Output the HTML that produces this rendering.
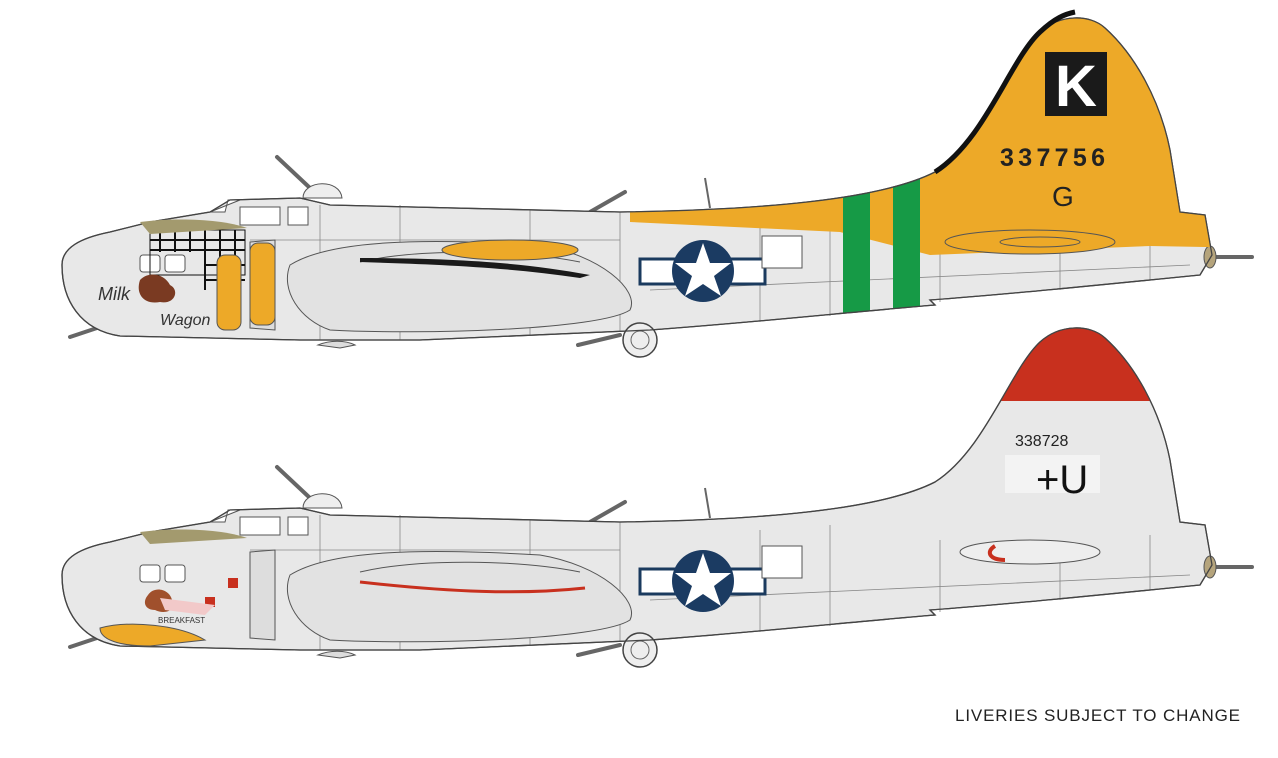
<!DOCTYPE html>
<html><head><meta charset="utf-8"><style>
html,body{margin:0;padding:0;background:#fff;width:1278px;height:758px;overflow:hidden}
svg{display:block}
text{font-family:"Liberation Sans",sans-serif}
</style></head><body>
<svg width="1278" height="758" viewBox="0 0 1278 758" xmlns="http://www.w3.org/2000/svg">
<defs>
<path id="fus" d="M62,265 C62,248 80,238 110,232 L150,222 L210,212 L230,200 L300,198 L330,205 L620,212 C760,210 880,200 935,172 C985,140 1010,60 1040,32 C1060,14 1090,14 1105,28 C1135,55 1160,100 1170,150 L1180,212 L1205,215 L1212,255 L1200,275 C1100,285 1000,295 930,300 L935,305 C850,312 760,322 650,330 L420,340 L300,340 L120,336 C80,330 62,300 62,265 Z"/>
<g id="common">
 <g stroke="#666" stroke-width="4" stroke-linecap="round">
  <line x1="277" y1="157" x2="310" y2="188"/>
  <line x1="590" y1="212" x2="625" y2="192"/>
  <line x1="70" y1="337" x2="100" y2="327"/>
  <line x1="578" y1="345" x2="620" y2="335"/>
  <line x1="67" y1="268" x2="95" y2="268"/>
  <line x1="1215" y1="257" x2="1252" y2="257"/>
 </g>
 <use href="#fus" fill="#e8e8e8" stroke="#555" stroke-width="1.3"/>
 <path d="M303,198 C303,180 340,178 342,198 Z" fill="#eee" stroke="#555"/>
 <path d="M210,212 L225,212 L228,200 L240,200 Z" fill="#fff" stroke="#555"/>
 <rect x="240" y="207" width="40" height="18" fill="#fff" stroke="#555"/>
 <rect x="288" y="207" width="20" height="18" fill="#fff" stroke="#555"/>
 <rect x="140" y="255" width="20" height="17" rx="3" fill="#fff" stroke="#555"/>
 <rect x="165" y="255" width="20" height="17" rx="3" fill="#fff" stroke="#555"/>
 <g stroke="#888" stroke-width="0.8" fill="none">
  <line x1="250" y1="240" x2="620" y2="240"/>
  <line x1="320" y1="205" x2="320" y2="340"/>
  <line x1="400" y1="205" x2="400" y2="340"/>
  <line x1="530" y1="210" x2="530" y2="336"/>
  <line x1="620" y1="212" x2="620" y2="332"/>
  <line x1="760" y1="220" x2="760" y2="322"/>
  <line x1="830" y1="215" x2="830" y2="316"/>
  <line x1="940" y1="230" x2="940" y2="302"/>
  <line x1="1060" y1="235" x2="1060" y2="290"/>
  <line x1="1150" y1="225" x2="1150" y2="280"/>
  <line x1="650" y1="290" x2="1190" y2="265"/>
 </g>
 <path d="M290,265 C330,240 420,238 540,245 C600,255 640,290 630,310 C600,330 420,335 330,330 C300,320 280,290 290,265 Z" fill="#e2e2e2" stroke="#555"/>
 <path d="M360,262 C420,248 520,250 580,262" stroke="#555" fill="none"/>
 <path d="M250,242 L275,240 L275,330 L250,328 Z" fill="#ddd" stroke="#555"/>
 <circle cx="640" cy="340" r="17" fill="#eee" stroke="#444" stroke-width="1.5"/>
 <circle cx="640" cy="340" r="9" fill="none" stroke="#666"/>
 <path d="M318,345 C330,340 345,340 355,345 L340,348 Z" fill="#ddd" stroke="#555"/>
 <rect x="640" y="259" width="125" height="25" fill="#fff" stroke="#1a3a5e" stroke-width="3"/>
 <circle cx="703" cy="271" r="31" fill="#1b3b62"/>
 <polygon points="703,243 710,263 731,263 714,276 721,296 703,284 685,296 692,276 675,263 696,263" fill="#fff"/>
 <rect x="762" y="236" width="40" height="32" fill="#fff" stroke="#555"/>
 <ellipse cx="1210" cy="257" rx="6" ry="11" fill="#b5a47c" stroke="#555"/>
 <line x1="705" y1="178" x2="710" y2="208" stroke="#666" stroke-width="2"/>
</g>
<clipPath id="fc"><use href="#fus"/></clipPath>
</defs>

<g>
 <use href="#common"/>
 <g clip-path="url(#fc)">
  <path d="M630,0 L1260,0 L1260,248 L1150,246 L930,255 L840,232 L630,222 Z" fill="#eda928"/>
  <rect x="843" y="180" width="27" height="150" fill="#169a46"/>
  <rect x="893" y="170" width="27" height="150" fill="#169a46"/>
 </g>
 <use href="#fus" fill="none" stroke="#444" stroke-width="1.3"/>
 <path d="M935,172 C985,140 1010,60 1040,32 C1055,18 1065,14 1075,12" stroke="#111" stroke-width="5" fill="none"/>
 <ellipse cx="1030" cy="242" rx="85" ry="12" fill="#eda928" stroke="#555"/>
 <ellipse cx="1040" cy="242" rx="40" ry="5" fill="none" stroke="#555"/>
 <rect x="1045" y="52" width="62" height="64" fill="#1a1a1a"/>
 <text x="1076" y="106" font-size="58" font-weight="bold" fill="#fff" text-anchor="middle">K</text>
 <text x="1000" y="166" font-size="25" font-weight="bold" fill="#222" textLength="105">337756</text>
 <text x="1052" y="206" font-size="28" fill="#222">G</text>
 <rect x="150" y="230" width="95" height="45" fill="none" stroke="#111" stroke-width="1"/>
 <g stroke="#111" stroke-width="2">
  <line x1="160" y1="230" x2="160" y2="252"/><line x1="175" y1="230" x2="175" y2="252"/>
  <line x1="190" y1="230" x2="190" y2="252"/><line x1="205" y1="230" x2="205" y2="290"/>
  <line x1="220" y1="230" x2="220" y2="290"/><line x1="235" y1="230" x2="235" y2="290"/>
  <line x1="150" y1="240" x2="245" y2="240"/><line x1="150" y1="250" x2="245" y2="250"/>
  <line x1="205" y1="265" x2="245" y2="265"/><line x1="205" y1="280" x2="245" y2="280"/>
 </g>
 <path d="M140,222 C170,218 220,218 247,228 L150,234 Z" fill="#a39a6e"/>
 <rect x="217" y="255" width="24" height="75" rx="8" fill="#eda928" stroke="#555"/>
 <rect x="250" y="243" width="25" height="82" rx="8" fill="#eda928" stroke="#555"/>
 <ellipse cx="510" cy="250" rx="68" ry="10" fill="#eda928" stroke="#555"/>
 <path d="M360,258 C450,258 520,262 590,275 L580,278 C500,266 420,264 360,262 Z" fill="#1a1a1a"/>
 <path d="M140,280 C150,270 165,275 170,285 C180,290 175,305 160,302 C145,305 135,295 140,280 Z" fill="#7a3a22"/>
 <text x="98" y="300" font-size="18" font-style="italic" font-family="Liberation Serif" fill="#333">Milk</text>
 <text x="160" y="325" font-size="16" font-style="italic" font-family="Liberation Serif" fill="#333">Wagon</text>
</g>

<g transform="translate(0,310)">
 <use href="#common"/>
 <g clip-path="url(#fc)">
  <rect x="900" y="0" width="350" height="91" fill="#c8301e"/>
  <rect x="1005" y="145" width="95" height="38" fill="#f3f3f3"/>
 </g>
 <use href="#fus" fill="none" stroke="#444" stroke-width="1.3"/>
 <ellipse cx="1030" cy="242" rx="70" ry="12" fill="#eee" stroke="#555"/>
 <path d="M995,236 C985,242 990,250 1005,250" stroke="#c8301e" stroke-width="4" fill="none"/>
 <text x="1015" y="136" font-size="16" fill="#222">338728</text>
 <text x="1036" y="183" font-size="40" fill="#111">+U</text>
 <path d="M140,222 C170,218 220,218 247,228 L150,234 Z" fill="#a39a6e"/>
 <path d="M100,318 C130,310 180,315 205,330 L150,336 C120,336 100,330 100,318 Z" fill="#eda928" stroke="#555"/>
 <path d="M360,272 C450,282 520,285 585,278" stroke="#c8301e" stroke-width="3" fill="none"/>
 <rect x="228" y="268" width="10" height="10" fill="#c8301e"/>
 <rect x="205" y="287" width="10" height="10" fill="#c8301e"/>
 <path d="M148,285 C155,275 170,280 172,290 C178,300 165,305 155,300 C145,300 142,292 148,285 Z" fill="#a0502c"/>
 <path d="M160,288 L215,295 L205,305 L165,300 Z" fill="#f2c9c9"/>
 <text x="158" y="313" font-size="8" fill="#333">BREAKFAST</text>
</g>

<text x="955" y="721" font-size="17" fill="#222" textLength="285">LIVERIES SUBJECT TO CHANGE</text>
</svg>
</body></html>
